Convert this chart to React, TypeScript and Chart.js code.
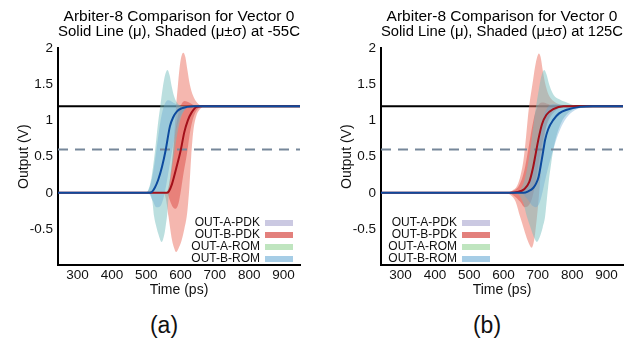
import React, { useEffect, useRef } from 'react';
import { Chart, registerables } from 'chart.js';

Chart.register(...registerables);

type P = [number, number];

const FONT = "'Liberation Sans', Arial, Helvetica, sans-serif";

const X_MIN = 243;
const X_MAX = 948;
const Y_MIN = -1;
const Y_MAX = 2;
const xTicks = [300, 400, 500, 600, 700, 800, 900];
const yTicks = [-0.5, 0, 0.5, 1, 1.5, 2];
const VDD = 1.2;
const THRESH = 0.6;

const seriesNames = ['OUT-A-PDK', 'OUT-B-PDK', 'OUT-A-ROM', 'OUT-B-ROM'];
const legendColors = ['#cbc9e2', '#e3807c', '#bfe5bf', '#a6cde6'];

const titleA = ['Arbiter-8 Comparison for Vector 0', 'Solid Line (\u03bc), Shaded (\u03bc\u00b1\u03c3) at -55C'];
const titleB = ['Arbiter-8 Comparison for Vector 0', 'Solid Line (\u03bc), Shaded (\u03bc\u00b1\u03c3) at 125C'];

// ---------- (a) -55C ----------
const aRomMean: P[] = [[243, 0], [505, 0], [516, 0.01], [525, 0.07], [535, 0.18], [546, 0.36], [557, 0.6], [569, 0.92], [579, 1.05], [589, 1.125], [603, 1.17], [618, 1.19], [640, 1.2], [948, 1.2]];
const aPdkMean: P[] = [[243, 0], [560, 0], [566, 0.02], [575, 0.12], [588, 0.35], [601, 0.6], [611, 0.84], [621, 1.0], [632, 1.11], [647, 1.19], [665, 1.2], [948, 1.2]];

const aRomWideUp: P[] = [[480, 0], [495, 0], [505, 0.03], [515, 0.2], [525, 0.55], [534, 0.95], [541, 1.2], [548, 1.45], [555, 1.63], [562, 1.7], [568, 1.63], [574, 1.48], [581, 1.34], [591, 1.24], [607, 1.2], [700, 1.2]];
const aRomWideLo: P[] = [[480, 0], [505, 0], [512, -0.02], [518, -0.12], [523, -0.33], [530, -0.48], [536, -0.58], [545, -0.68], [553, -0.57], [557, -0.45], [561, -0.3], [565, -0.05], [571, 0.2], [580, 0.5], [590, 0.8], [600, 1.02], [612, 1.15], [630, 1.2], [700, 1.2]];
const aPdkWideUp: P[] = [[520, 0], [555, 0], [564, 0.05], [571, 0.25], [578, 0.55], [583, 0.9], [587, 1.2], [592, 1.47], [597, 1.72], [602, 1.88], [608, 1.94], [614, 1.88], [620, 1.7], [627, 1.5], [636, 1.35], [646, 1.26], [658, 1.21], [675, 1.2], [720, 1.2]];
const aPdkWideLo: P[] = [[520, 0], [550, 0], [557, -0.08], [565, -0.33], [570, -0.5], [575, -0.65], [581, -0.76], [587, -0.82], [594, -0.77], [603, -0.66], [611, -0.5], [618, -0.33], [622, -0.15], [626, 0.1], [631, 0.5], [637, 0.85], [645, 1.05], [655, 1.15], [672, 1.2], [720, 1.2]];
const aPdkInUp: P[] = [[520, 0], [555, 0], [565, 0.08], [572, 0.3], [578, 0.55], [585, 0.85], [593, 1.08], [602, 1.22], [612, 1.27], [625, 1.25], [640, 1.21], [660, 1.2], [720, 1.2]];
const aPdkInLo: P[] = [[520, 0], [560, 0], [570, -0.12], [578, -0.2], [586, -0.22], [594, -0.15], [600, 0.0], [608, 0.25], [619, 0.55], [628, 0.85], [638, 1.05], [650, 1.16], [668, 1.2], [720, 1.2]];
const aRomInUp: P[] = [[470, 0], [495, 0], [507, 0.04], [517, 0.2], [527, 0.5], [537, 0.85], [546, 1.1], [555, 1.24], [565, 1.28], [578, 1.25], [595, 1.21], [615, 1.2], [680, 1.2]];
const aRomInLo: P[] = [[470, 0], [505, 0], [518, -0.1], [530, -0.2], [540, -0.19], [550, -0.08], [558, 0.1], [567, 0.35], [577, 0.62], [588, 0.88], [600, 1.06], [615, 1.16], [635, 1.2], [680, 1.2]];

// ---------- (b) 125C ----------
const bRomMean: P[] = [[243, 0], [640, 0], [658, 0.0], [672, 0.02], [687, 0.07], [695, 0.13], [702, 0.22], [711, 0.45], [716, 0.59], [721, 0.73], [730, 0.88], [745, 1.01], [762, 1.1], [784, 1.15], [823, 1.19], [860, 1.2], [948, 1.2]];
const bPdkMean: P[] = [[243, 0], [620, 0], [640, 0.01], [660, 0.05], [675, 0.15], [686, 0.35], [694, 0.55], [702, 0.75], [712, 0.95], [725, 1.08], [745, 1.16], [775, 1.2], [948, 1.2]];

const bPdkWideUp: P[] = [[580, 0], [600, 0], [625, 0.03], [640, 0.1], [650, 0.25], [658, 0.45], [665, 0.75], [671, 1.05], [676, 1.25], [684, 1.5], [692, 1.75], [698, 1.88], [703, 1.93], [708, 1.88], [714, 1.7], [722, 1.5], [732, 1.35], [745, 1.27], [765, 1.22], [790, 1.2], [880, 1.2]];
const bPdkWideLo: P[] = [[580, 0], [600, 0], [620, -0.03], [635, -0.12], [648, -0.33], [656, -0.45], [663, -0.56], [672, -0.68], [682, -0.76], [688, -0.68], [692, -0.56], [697, -0.35], [702, -0.1], [708, 0.25], [715, 0.6], [723, 0.88], [735, 1.07], [750, 1.16], [775, 1.2], [880, 1.2]];
const bRomWideUp: P[] = [[600, 0], [630, 0], [650, 0.05], [665, 0.25], [678, 0.6], [690, 1.05], [700, 1.35], [708, 1.57], [714, 1.67], [719, 1.7], [725, 1.64], [733, 1.5], [742, 1.39], [750, 1.33], [765, 1.29], [779, 1.26], [800, 1.22], [820, 1.2], [880, 1.2]];
const bRomWideLo: P[] = [[600, 0], [630, 0], [645, -0.03], [658, -0.15], [668, -0.33], [680, -0.5], [690, -0.63], [697, -0.68], [705, -0.62], [714, -0.48], [721, -0.33], [726, -0.1], [731, 0.13], [738, 0.38], [745, 0.6], [755, 0.8], [768, 0.97], [785, 1.09], [810, 1.17], [850, 1.2], [880, 1.2]];
const bRomInUp: P[] = [[600, 0], [640, 0], [660, 0.04], [675, 0.15], [687, 0.4], [697, 0.62], [706, 0.85], [716, 1.05], [728, 1.18], [745, 1.23], [770, 1.22], [800, 1.2], [880, 1.2]];
const bRomInLo: P[] = [[600, 0], [650, 0], [668, -0.08], [682, -0.17], [694, -0.2], [704, -0.15], [712, -0.02], [720, 0.15], [730, 0.35], [745, 0.6], [760, 0.82], [778, 1.0], [800, 1.12], [830, 1.18], [860, 1.2], [880, 1.2]];
const bPdkInUp: P[] = [[580, 0], [600, 0], [625, 0.02], [645, 0.1], [660, 0.3], [672, 0.6], [682, 0.88], [692, 1.1], [702, 1.22], [715, 1.25], [735, 1.22], [760, 1.2], [880, 1.2]];
const bPdkInLo: P[] = [[580, 0], [610, 0], [630, -0.04], [648, -0.12], [662, -0.2], [674, -0.17], [684, -0.06], [692, 0.12], [700, 0.35], [710, 0.62], [722, 0.88], [738, 1.06], [758, 1.16], [785, 1.2], [880, 1.2]];

const COLORS = {
  romMean: '#0d4a9e',
  pdkMean: '#a3101a',
  pdkWide: 'rgba(236,112,96,0.5)',
  pdkIn: 'rgba(214,50,45,0.4)',
  romWide: 'rgba(120,192,192,0.5)',
  romIn: 'rgba(100,165,210,0.38)',
  vdd: '#000000',
  thresh: '#76879a',
};

interface PanelCfg {
  title: string[];
  romMean: P[];
  pdkMean: P[];
  pdkWide: [P[], P[]];
  pdkIn: [P[], P[]];
  romWide: [P[], P[]];
  romIn: [P[], P[]];
  legendSide: 'left' | 'right';
}

const panelA: PanelCfg = {
  title: titleA,
  romMean: aRomMean,
  pdkMean: aPdkMean,
  pdkWide: [aPdkWideUp, aPdkWideLo],
  pdkIn: [aPdkInUp, aPdkInLo],
  romWide: [aRomWideUp, aRomWideLo],
  romIn: [aRomInUp, aRomInLo],
  legendSide: 'right',
};

const panelB: PanelCfg = {
  title: titleB,
  romMean: bRomMean,
  pdkMean: bPdkMean,
  pdkWide: [bPdkWideUp, bPdkWideLo],
  pdkIn: [bPdkInUp, bPdkInLo],
  romWide: [bRomWideUp, bRomWideLo],
  romIn: [bRomInUp, bRomInLo],
  legendSide: 'left',
};

const toXY = (pts: P[]) => pts.map(([x, y]) => ({ x, y }));

function makeLegendPlugin(side: 'left' | 'right') {
  return {
    id: 'boxLegend',
    afterDatasetsDraw(chart: any) {
      const { ctx, chartArea: ca } = chart;
      const textRight = side === 'right' ? ca.right - 40 : ca.left + 76;
      const patchX = textRight + 5;
      ctx.save();
      ctx.font = `12px ${FONT}`;
      ctx.textAlign = 'right';
      ctx.textBaseline = 'middle';
      seriesNames.forEach((name, i) => {
        const y = ca.bottom - 42 + i * 12;
        ctx.fillStyle = legendColors[i];
        ctx.fillRect(patchX, y - 3, 28, 6);
        ctx.fillStyle = '#111';
        ctx.fillText(name, textRight, y);
      });
      ctx.restore();
    },
  };
}

function Panel({ cfg, left, width, height, padRight }: { cfg: PanelCfg; left: number; width: number; height: number; padRight: number }) {
  const ref = useRef<HTMLCanvasElement>(null);
  useEffect(() => {
    if (!ref.current) return;
    const datasets: any[] = [];
    const line = (pts: P[], color: string, order: number, dash: number[] = []) => {
      datasets.push({
        data: toXY(pts),
        borderColor: color,
        borderWidth: 2,
        borderDash: dash,
        pointRadius: 0,
        fill: false,
        cubicInterpolationMode: 'monotone',
        order,
      });
    };
    const band = (pair: [P[], P[]], color: string, order: number) => {
      datasets.push({
        data: toXY(pair[0]),
        borderColor: 'rgba(0,0,0,0)',
        borderWidth: 0,
        backgroundColor: color,
        fill: '+1',
        pointRadius: 0,
        cubicInterpolationMode: 'monotone',
        order,
      });
      datasets.push({
        data: toXY(pair[1]),
        borderColor: 'rgba(0,0,0,0)',
        borderWidth: 0,
        fill: false,
        pointRadius: 0,
        cubicInterpolationMode: 'monotone',
        order,
      });
    };
    line(cfg.romMean, COLORS.romMean, 0);
    line(cfg.pdkMean, COLORS.pdkMean, 1);
    line([[X_MIN, THRESH], [X_MAX, THRESH]], COLORS.thresh, 2, [10, 7]);
    band(cfg.romIn, COLORS.romIn, 3);
    band(cfg.romWide, COLORS.romWide, 4);
    band(cfg.pdkIn, COLORS.pdkIn, 5);
    band(cfg.pdkWide, COLORS.pdkWide, 6);
    line([[X_MIN, VDD], [X_MAX, VDD]], COLORS.vdd, 7);

    const chart = new Chart(ref.current, {
      type: 'line',
      data: { datasets },
      options: {
        animation: false,
        responsive: false,
        maintainAspectRatio: false,
        events: [],
        layout: { padding: { left: 0, right: padRight, top: 0, bottom: 0 } },
        plugins: {
          legend: { display: false },
          tooltip: { enabled: false },
          title: {
            display: true,
            text: cfg.title,
            fullSize: false,
            color: '#000',
            font: { size: 15.5, family: FONT, weight: 'normal', lineHeight: 0.98 },
            padding: { top: 9, bottom: 9 },
          },
        },
        scales: {
          x: {
            type: 'linear',
            min: X_MIN,
            max: X_MAX,
            afterBuildTicks: (ax: any) => {
              ax.ticks = xTicks.map((v) => ({ value: v }));
            },
            afterFit: (ax: any) => {
              ax.height = 35;
            },
            grid: { display: false, drawTicks: false },
            border: { display: true, color: '#000', width: 2 },
            ticks: {
              color: '#111',
              font: { size: 13.5, family: FONT },
              padding: 2,
              maxRotation: 0,
              autoSkip: false,
              callback: (v: any) => String(v),
            },
            title: {
              display: true,
              text: 'Time (ps)',
              color: '#111',
              font: { size: 14, family: FONT },
              padding: { top: 0, bottom: 1 },
            },
          },
          y: {
            type: 'linear',
            min: Y_MIN,
            max: Y_MAX,
            afterBuildTicks: (ax: any) => {
              ax.ticks = yTicks.map((v) => ({ value: v }));
            },
            afterFit: (ax: any) => {
              ax.width = 58;
            },
            grid: { display: false, drawTicks: false },
            border: { display: true, color: '#000', width: 2 },
            ticks: {
              color: '#111',
              font: { size: 13.5, family: FONT },
              padding: 5,
              callback: (v: any) => String(v),
            },
            title: {
              display: true,
              text: 'Output (V)',
              color: '#111',
              font: { size: 14, family: FONT },
              padding: { top: 16, bottom: 0 },
            },
          },
        },
      } as any,
      plugins: [makeLegendPlugin(cfg.legendSide)],
    });
    return () => chart.destroy();
  }, [cfg, padRight]);

  return (
    <canvas
      ref={ref}
      width={width}
      height={height}
      style={{ position: 'absolute', left, top: 0, width, height, display: 'block' }}
    />
  );
}

const captionStyle: React.CSSProperties = {
  position: 'absolute',
  top: 314,
  width: 60,
  textAlign: 'center',
  fontFamily: FONT,
  fontSize: 23,
  lineHeight: '23px',
  color: '#111',
};

export default function App() {
  return (
    <div style={{ position: 'absolute', left: 0, top: 0, width: 643, height: 341, background: '#fff', overflow: 'hidden' }}>
      <Panel cfg={panelA} left={0} width={321} height={300} padRight={21} />
      <Panel cfg={panelB} left={323} width={320} height={300} padRight={20} />
      <div style={{ ...captionStyle, left: 164 - 30 }}>(a)</div>
      <div style={{ ...captionStyle, left: 487 - 30 }}>(b)</div>
    </div>
  );
}
